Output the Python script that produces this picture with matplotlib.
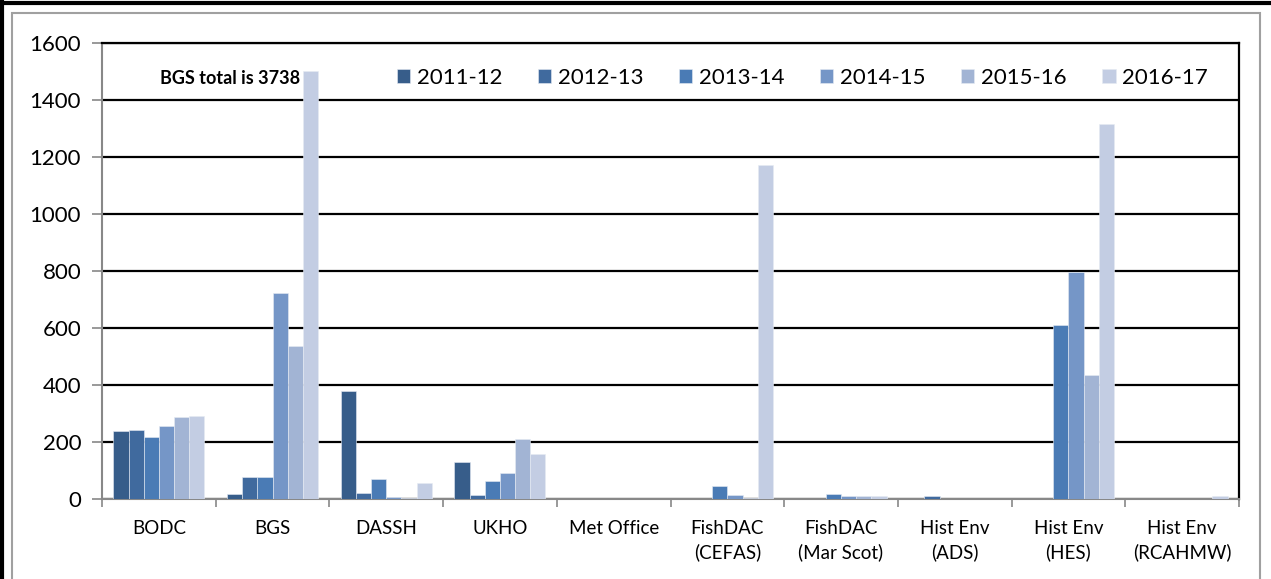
import matplotlib
import matplotlib.pyplot as plt
import numpy as np
from matplotlib.patches import Rectangle
from matplotlib.lines import Line2D

matplotlib.use('Agg')

plt.rcParams['font.family'] = ['Lato', 'DejaVu Sans']

# data
categories = ['BODC', 'BGS', 'DASSH', 'UKHO', 'Met Office', 'FishDAC\n(CEFAS)',
              'FishDAC\n(Mar Scot)', 'Hist Env\n(ADS)', 'Hist Env\n(HES)', 'Hist Env\n(RCAHMW)']
years = ['2011-12', '2012-13', '2013-14', '2014-15', '2015-16', '2016-17']
v_2011 = [238, 16, 379, 129, 0, 0, 0, 0, 0, 0]
v_2012 = [242, 78, 20, 13, 0, 0, 0, 9, 0, 0]
v_2013 = [217, 76, 70, 63, 0, 46, 18, 0, 609, 0]
v_2014 = [255, 724, 6, 91, 0, 14, 10, 0, 797, 0]
v_2015 = [288, 538, 5, 210, 0, 4, 9, 0, 434, 0]
v_2016 = [291, 1500, 56, 158, 0, 1172, 9, 0, 1316, 10]
series = [v_2011, v_2012, v_2013, v_2014, v_2015, v_2016]
colors = ['#375d8a', '#406a9e', '#4a7bb5', '#7596c7', '#a2b4d4', '#c3cde3']

W, H = 1271, 579
fig = plt.figure(figsize=(W / 100, H / 100), dpi=100)
ax = fig.add_axes([102 / W, 1 - 499 / H, (1239 - 102) / W, (499 - 43) / H])

# outer frame
fig.patches.append(Rectangle((12 / W, -0.1), (1260 - 12) / W, 1.1 - 13 / H, transform=fig.transFigure,
                             fill=False, edgecolor='#a0a0a0', linewidth=1.5))
fig.add_artist(Line2D([2 / W, 2 / W], [0, 1], transform=fig.transFigure, color='black', linewidth=3))
fig.add_artist(Line2D([0, 1], [1 - 3 / H, 1 - 3 / H], transform=fig.transFigure, color='black', linewidth=3))

x = np.arange(len(categories))
w = 1 / 7.5
for i, (vals, col, lab) in enumerate(zip(series, colors, years)):
    ax.bar(x + (i - 2.5) * w, vals, width=w, color=col, edgecolor='#e6ebf3', linewidth=0.4,
           label=lab, zorder=3)

ax.set_xlim(-0.5, 9.5)
ax.set_ylim(0, 1600)
ax.set_yticks(range(0, 1601, 200))
ax.yaxis.grid(True, color='black', linewidth=1.6, zorder=0)
ax.set_axisbelow(True)

ax.set_xticks(np.arange(-0.5, 10, 1))
ax.set_xticklabels([])
ax.set_xticks(x, minor=True)
ax.set_xticklabels(categories, minor=True, fontsize=13.5, linespacing=1.45)
ax.tick_params(axis='x', which='major', length=6, color='#888888', width=1.2)
ax.tick_params(axis='x', which='minor', length=0, pad=15)
ax.tick_params(axis='y', length=7, color='#888888', width=1.2, labelsize=16, pad=8)

for s in ['left', 'bottom']:
    ax.spines[s].set_color('#888888')
    ax.spines[s].set_linewidth(1.5)
for s in ['top', 'right']:
    ax.spines[s].set_color('black')
    ax.spines[s].set_linewidth(1.6)

ax.text(1.24, 1477, 'BGS total is 3738', ha='right', va='center', fontsize=13,
        fontweight='bold', zorder=5)

leg = ax.legend(loc='center', bbox_to_anchor=(0.616, 0.923), ncol=6, frameon=False,
                fontsize=16, handlelength=0.6, handleheight=0.6, handletextpad=0.3,
                columnspacing=1.6, borderaxespad=0)

fig.savefig('out.png', dpi=100)
